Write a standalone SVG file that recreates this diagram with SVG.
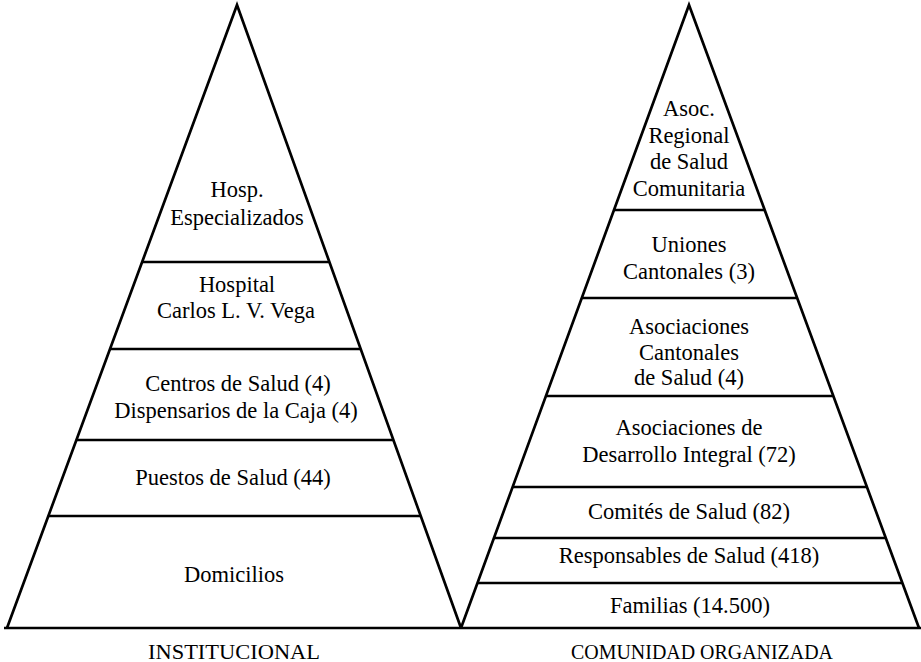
<svg xmlns="http://www.w3.org/2000/svg" width="921" height="662" viewBox="0 0 921 662">
<style>
.ln{stroke:#000;stroke-width:2.7;fill:none;stroke-linejoin:miter;stroke-linecap:butt}
.dv{stroke:#000;stroke-width:2.7;fill:none}
text{font-family:"Liberation Serif","Times New Roman",serif;font-size:22.5px;fill:#000;text-anchor:middle}
.lab{font-size:21px}
</style>
<rect width="921" height="662" fill="#fff"/>
<g id="outlines">
<path class="ln" d="M7,628 L237,5 L461,628"/>
<path class="ln" d="M461,628 L689,5 L919,628"/>
<line class="dv" x1="4" y1="628" x2="921" y2="628"/>
</g>
<g id="left-pyramid">
<g id="hosp-especializados">
<text x="237" y="197">Hosp.</text>
<text x="237" y="225">Especializados</text>
</g>
<g id="hospital-vega">
<line class="dv" x1="142" y1="262" x2="330" y2="262"/>
<text x="237" y="292">Hospital</text>
<text x="236" y="318">Carlos L. V. Vega</text>
</g>
<g id="centros-salud">
<line class="dv" x1="110" y1="349" x2="361" y2="349"/>
<text x="238" y="391">Centros de Salud (4)</text>
<text x="236" y="418">Dispensarios de la Caja (4)</text>
</g>
<g id="puestos-salud">
<line class="dv" x1="76" y1="440" x2="394" y2="440"/>
<text x="233" y="485">Puestos de Salud (44)</text>
</g>
<g id="domicilios">
<line class="dv" x1="48" y1="516" x2="421" y2="516"/>
<text x="234" y="582">Domicilios</text>
</g>
</g>
<g id="right-pyramid">
<g id="asoc-regional">
<text x="689" y="116">Asoc.</text>
<text x="689" y="143">Regional</text>
<text x="689" y="169">de Salud</text>
<text x="689" y="196">Comunitaria</text>
</g>
<g id="uniones-cantonales">
<line class="dv" x1="614" y1="210" x2="765" y2="210"/>
<text x="689" y="252">Uniones</text>
<text x="689" y="279">Cantonales (3)</text>
</g>
<g id="asociaciones-cantonales">
<line class="dv" x1="582" y1="298" x2="797" y2="298"/>
<text x="689" y="334">Asociaciones</text>
<text x="689" y="360">Cantonales</text>
<text x="689" y="385">de Salud (4)</text>
</g>
<g id="asociaciones-desarrollo">
<line class="dv" x1="546" y1="396" x2="833" y2="396"/>
<text x="689" y="435">Asociaciones de</text>
<text x="689" y="462">Desarrollo Integral (72)</text>
</g>
<g id="comites-salud">
<line class="dv" x1="513" y1="487" x2="867" y2="487"/>
<text x="689" y="519">Comités de Salud (82)</text>
</g>
<g id="responsables-salud">
<line class="dv" x1="494" y1="538" x2="886" y2="538"/>
<text x="689" y="563">Responsables de Salud (418)</text>
</g>
<g id="familias">
<line class="dv" x1="477" y1="583" x2="902" y2="583"/>
<text x="690" y="613">Familias (14.500)</text>
</g>
</g>
<g id="labels">
<text class="lab" x="234" y="659" textLength="172" lengthAdjust="spacingAndGlyphs">INSTITUCIONAL</text>
<text class="lab" x="702" y="659" textLength="262" lengthAdjust="spacingAndGlyphs">COMUNIDAD ORGANIZADA</text>
</g>
</svg>
